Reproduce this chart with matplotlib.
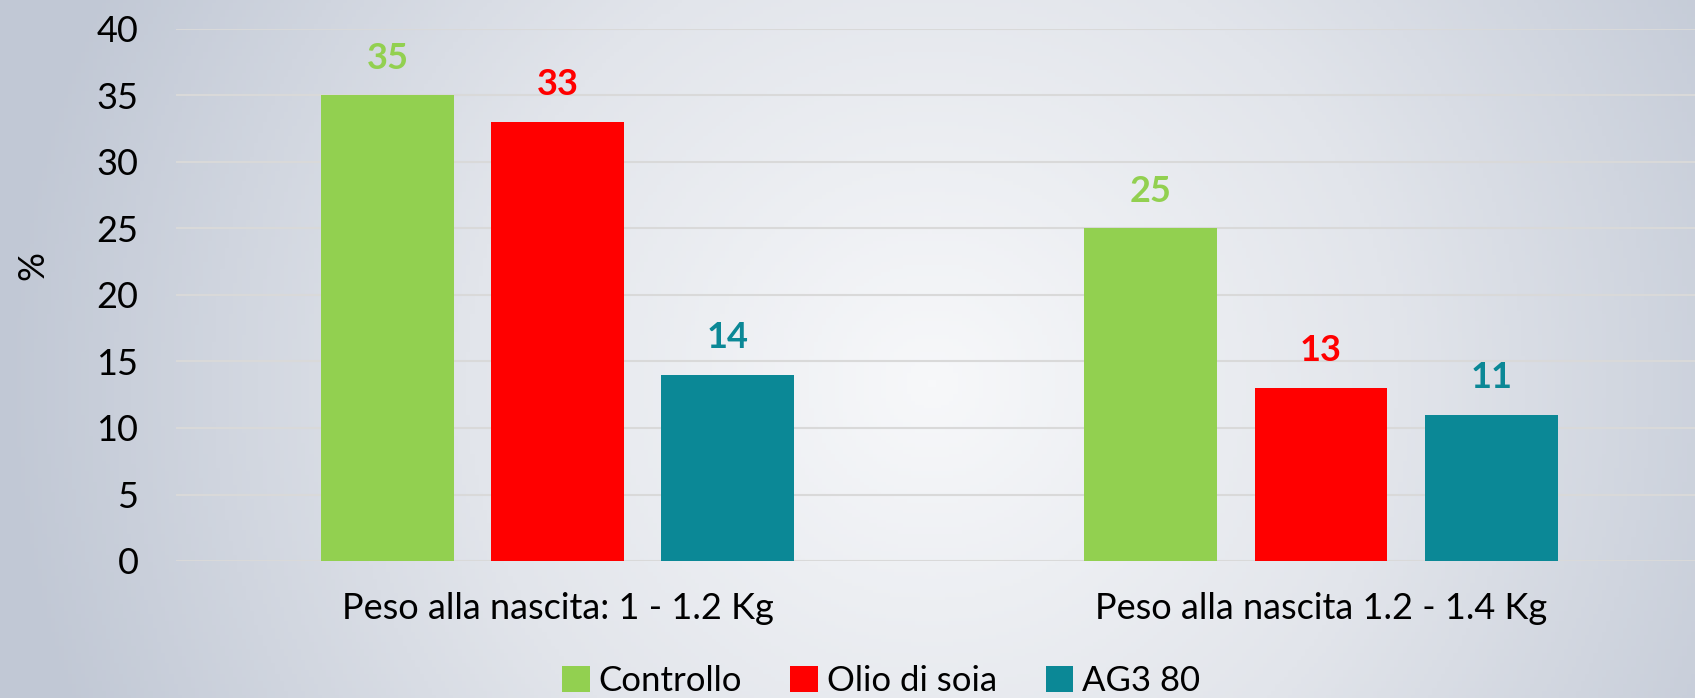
import numpy as np
import matplotlib
matplotlib.use("Agg")
import matplotlib.pyplot as plt
from matplotlib.colors import LinearSegmentedColormap
from matplotlib.patches import Patch

categories = ["Peso alla nascita: 1 - 1.2 Kg", "Peso alla nascita 1.2 - 1.4 Kg"]
series_names = ["Controllo", "Olio di soia", "AG3 80"]
controllo = [35, 25]
olio_di_soia = [33, 13]
ag3_80 = [14, 11]
series_values = [controllo, olio_di_soia, ag3_80]
colors = ["#92d050", "#ff0000", "#0b8896"]
yticks = [0, 5, 10, 15, 20, 25, 30, 35, 40]

plt.rcParams['font.family'] = ['Lato', 'DejaVu Sans']

W, H = 1695, 698
fig = plt.figure(figsize=(W / 100, H / 100), dpi=100)

# background gradient
bg = fig.add_axes([0, 0, 1, 1], zorder=-10)
yy, xx = np.mgrid[0:1:200j, 0:1:400j]
d = np.sqrt(((xx - 0.55) / 0.55) ** 2 + ((yy - 0.55) / 1.3) ** 2)
cmap = LinearSegmentedColormap.from_list("bg", ["#f7f8fa", "#e2e5eb", "#c1c8d5"])
bg.imshow(np.clip(d, 0, 1), cmap=cmap, aspect='auto', extent=[0, 1, 0, 1], vmin=0, vmax=1)
bg.axis('off')

ax = fig.add_axes([176 / W, 1 - 561 / H, 1 - 176 / W, (561 - 29) / H])
ax.patch.set_alpha(0)

x = np.arange(len(categories))
width = 0.174
step = 0.223
for i, (name, vals, c) in enumerate(zip(series_names, series_values, colors)):
    pos = x + (i - 1) * step
    ax.bar(pos, vals, width, color=c, label=name, zorder=3)
    for p, v in zip(pos, vals):
        ax.annotate(str(v), (p, v), xytext=(0, 15), textcoords='offset points',
                    ha='center', va='bottom', fontsize=26, fontweight='bold', color=c)

ax.set_xlim(-0.5, 1.49)
ax.set_ylim(0, 40)
ax.set_yticks(yticks)
ax.set_yticklabels([str(t) for t in yticks], fontsize=26)
ax.set_xticks(x)
ax.set_xticklabels(categories, fontsize=26)
ax.tick_params(axis='y', length=0, pad=27, colors='black')
ax.tick_params(axis='x', length=0, pad=22, colors='black')
ax.grid(axis='y', color='#d9d9d9', linewidth=1.5, zorder=0)
ax.set_axisbelow(True)
for s in ax.spines.values():
    s.set_visible(False)

fig.text(33 / W, 1 - 265 / H, "%", rotation=90, fontsize=26, ha='center', va='center')

handles = [Patch(facecolor=c, label=n) for n, c in zip(series_names, colors)]
fig.legend(handles=handles, loc='center', bbox_to_anchor=(881 / W, 1 - 681 / H), ncol=3,
           frameon=False, fontsize=25, handlelength=0.8, handleheight=0.8,
           handletextpad=0.25, columnspacing=1.4)

fig.savefig("out.png", dpi=100)
